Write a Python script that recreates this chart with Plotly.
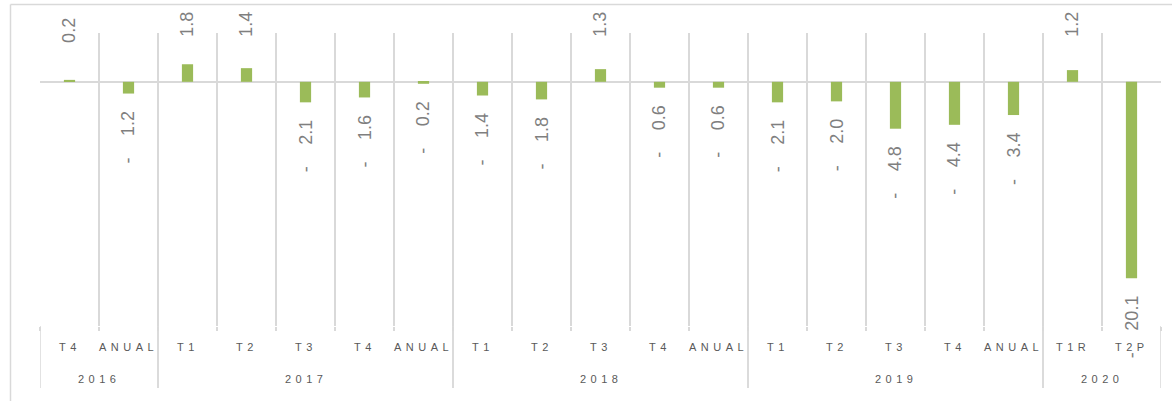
import plotly.graph_objects as go

# ---- data ----
years = ["2016", "2016",
         "2017", "2017", "2017", "2017", "2017",
         "2018", "2018", "2018", "2018", "2018",
         "2019", "2019", "2019", "2019", "2019",
         "2020", "2020"]
quarters = ["T4", "ANUAL",
            "T1", "T2", "T3", "T4", "ANUAL",
            "T1", "T2", "T3", "T4", "ANUAL",
            "T1", "T2", "T3", "T4", "ANUAL",
            "T1R", "T2P"]
values = [0.2, -1.2,
          1.8, 1.4, -2.1, -1.6, -0.2,
          -1.4, -1.8, 1.3, -0.6, -0.6,
          -2.1, -2.0, -4.8, -4.4, -3.4,
          1.2, -20.1]

# ---- styling ----
BAR_COLOR = "#9BBB59"
GRID = "#D9D9D9"
LABEL_COLOR = "#7F7F7F"
TICK_COLOR = "#595959"
Y_MIN, Y_MAX = -25, 5
W, H = 1172, 401
M_L, M_R, M_T, M_B = 40, 11, 33, 75
plot_h = H - M_T - M_B
plot_w = W - M_L - M_R
ppu = plot_h / (Y_MAX - Y_MIN)
px_x = lambda p: (p - M_L) / plot_w
px_y = lambda p: (H - M_B - p) / plot_h


def spaced(s):
    return '<span style="letter-spacing:4.5px">' + s + '</span>'


cats = [f"{y} {q}" for y, q in zip(years, quarters)]
n = len(cats)

fig = go.Figure()
fig.add_trace(go.Bar(
    x=cats,
    y=values,
    marker=dict(color=BAR_COLOR, line=dict(width=0)),
    hoverinfo="skip",
))

NBSP = "\u00a0"
LBL_FONT = dict(family="Liberation Sans", size=18, color=LABEL_COLOR)
TICK_FONT = dict(family="Liberation Sans", size=11, color=TICK_COLOR)
annotations = []
for i, v in enumerate(values):
    num = f"{abs(v):.1f}"
    if v >= 0:
        y_lab = min(v + 35 / ppu, (49 - 6) / ppu)
        annotations.append(dict(
            x=i, y=y_lab, xref="x", yref="y", text=num, showarrow=False,
            textangle=-90, yanchor="bottom", xanchor="center", font=LBL_FONT,
        ))
    else:
        annotations.append(dict(
            x=i, y=v, xref="x", yref="y", text="-" + NBSP * 4 + "\u200a" + num,
            showarrow=False, textangle=-90, yanchor="top", xanchor="center",
            yshift=-15, font=LBL_FONT,
        ))

# inner category labels
for i, q in enumerate(quarters):
    annotations.append(dict(
        x=i, y=px_y(347), xref="x", yref="paper", text=spaced(q),
        showarrow=False, xanchor="center", yanchor="middle", font=TICK_FONT,
    ))

# year groups: labels + dividers
groups = []
start = 0
for i in range(1, n + 1):
    if i == n or years[i] != years[start]:
        groups.append((years[start], start, i - 1))
        start = i

shapes = []
for yr, a, b in groups:
    annotations.append(dict(
        x=(a + b) / 2, y=px_y(379), xref="x", yref="paper", text=spaced(yr),
        showarrow=False, xanchor="center", yanchor="middle", font=TICK_FONT,
    ))
    for edge in (a - 0.5, b + 0.5):
        shapes.append(dict(
            type="line", xref="x", yref="paper", x0=edge, x1=edge,
            y0=px_y(326), y1=px_y(388), line=dict(color=GRID, width=1.5),
        ))

# chart-area border (left + top)
shapes += [
    dict(type="line", xref="paper", yref="paper",
         x0=px_x(10.5), x1=px_x(10.5), y0=px_y(401), y1=px_y(4.5),
         line=dict(color=GRID, width=1.5)),
    dict(type="line", xref="paper", yref="paper",
         x0=px_x(10.5), x1=px_x(1172), y0=px_y(4.5), y1=px_y(4.5),
         line=dict(color=GRID, width=1.5)),
]

fig.update_layout(
    template="none",
    width=W, height=H,
    margin=dict(l=M_L, r=M_R, t=M_T, b=M_B, pad=0, autoexpand=False),
    paper_bgcolor="white", plot_bgcolor="white",
    showlegend=False,
    bargap=0.81,
    annotations=annotations,
    shapes=shapes,
    hovermode=False,
    xaxis=dict(
        type="category", automargin=False, tickson="boundaries",
        showticklabels=False,
        showgrid=True, gridcolor=GRID, gridwidth=1.5,
        ticks="outside", ticklen=4, tickcolor=GRID, tickwidth=1.5,
        showline=False, zeroline=False, range=[-0.5, n - 0.5],
    ),
    yaxis=dict(
        range=[Y_MIN, Y_MAX], automargin=False,
        showgrid=False, showticklabels=False, ticks="",
        zeroline=True, zerolinecolor=GRID, zerolinewidth=1.5,
        showline=False,
    ),
)

fig.write_html("out.html", config={"displayModeBar": False},
               post_script="document.body.style.margin='0';")
